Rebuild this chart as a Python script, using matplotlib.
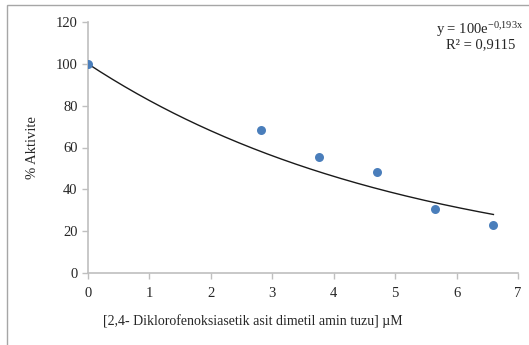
import numpy as np
import matplotlib.pyplot as plt
from matplotlib.patches import Rectangle

plt.rcParams['font.family'] = ['Liberation Serif', 'DejaVu Serif']
plt.rcParams['mathtext.fontset'] = 'custom'
plt.rcParams['mathtext.rm'] = 'Liberation Serif'
plt.rcParams['mathtext.it'] = 'Liberation Serif'

# concentration (uM) and relative activity (%)
conc = [0.0, 2.82, 3.76, 4.71, 5.65, 6.60]
activity = [100.0, 68.4, 55.6, 48.2, 30.8, 23.0]

# exponential trend line fitted to the points
fit_a = 100
fit_b = -0.193
r_squared = 0.9115

x_ticks = [0, 1, 2, 3, 4, 5, 6, 7]
y_ticks = [0, 20, 40, 60, 80, 100, 120]

W, H = 529, 345
fig = plt.figure(figsize=(W / 100, H / 100), dpi=100)
ax = fig.add_axes([88 / W, 1 - 273 / H, 430 / W, 251 / H])

xs = np.linspace(0, max(conc), 200)
ax.plot(xs, fit_a * np.exp(fit_b * xs), color='#1a1a1a', lw=1.0, zorder=2)
ax.scatter(conc, activity, s=42, color='#4a7ebb', zorder=3, linewidths=0)

ax.set_xlim(0, 7)
ax.set_ylim(0, 120)
ax.set_xticks(x_ticks)
ax.set_yticks(y_ticks)
ax.tick_params(axis='both', colors='#bfbfbf', labelcolor='#262626',
               labelsize=10.5, length=4, width=1)
ax.tick_params(axis='x', pad=6)
for side in ['top', 'right']:
    ax.spines[side].set_visible(False)
for side in ['left', 'bottom']:
    ax.spines[side].set_color('#bfbfbf')
    ax.spines[side].set_linewidth(1.2)

ax.set_ylabel('% Aktivite', fontsize=10.5, color='#262626', labelpad=12)
fig.text(253 / W, 1 - 321 / H,
         '[2,4- Diklorofenoksiasetik asit dimetil amin tuzu] µM',
         ha='center', va='center', fontsize=10, color='#262626')

# trend line equation and R²
fig.text(523 / W, 1 - 30 / H,
         r'y = 100e$^{\mathrm{-0{,}193x}}$',
         ha='right', va='center', fontsize=10.5, color='#262626')
fig.text(481 / W, 1 - 45 / H, 'R² = %s' % str(r_squared).replace('.', ','),
         ha='center', va='center', fontsize=10.5, color='#262626')

# outer frame, only top and left edges fall inside the image
fig.patches.append(Rectangle((7 / W, -0.1), 1.2, 1.1 - 5 / H,
                             transform=fig.transFigure, fill=False,
                             edgecolor='#a6a6a6', lw=1.0))

fig.savefig('out.png', dpi=100)
